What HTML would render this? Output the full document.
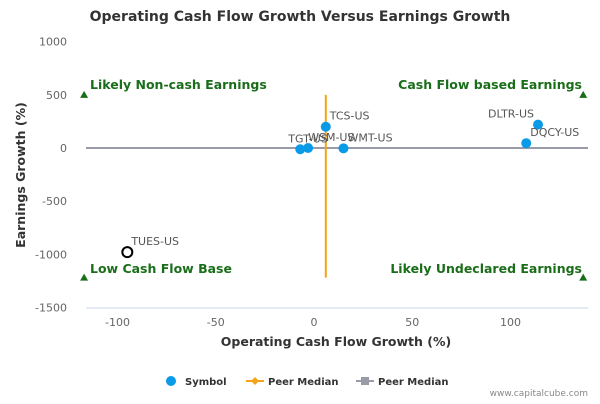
<!DOCTYPE html>
<html><head><meta charset="utf-8"><style>
body{margin:0;background:#fff;font-family:"DejaVu Sans",sans-serif}
</style></head><body>
<svg width="600" height="400" xmlns="http://www.w3.org/2000/svg" font-family="DejaVu Sans, Liberation Sans, sans-serif">
<text x="300" y="21" text-anchor="middle" font-size="14" font-weight="bold" fill="#333">Operating Cash Flow Growth Versus Earnings Growth</text>
<g id="grid"></g>
<g id="marks"></g>
<text x="336" y="346" text-anchor="middle" font-size="12.5" font-weight="bold" fill="#333">Operating Cash Flow Growth (%)</text>
<text transform="translate(25,175) rotate(-90)" text-anchor="middle" font-size="12.5" font-weight="bold" fill="#333">Earnings Growth (%)</text>
<text x="90" y="89" font-size="12.5" font-weight="bold" fill="#1a6e1a">Likely Non-cash Earnings</text>
<text x="582" y="89" text-anchor="end" font-size="12.5" font-weight="bold" fill="#1a6e1a">Cash Flow based Earnings</text>
<text x="90" y="273" font-size="12.5" font-weight="bold" fill="#1a6e1a">Low Cash Flow Base</text>
<text x="582" y="273" text-anchor="end" font-size="12.5" font-weight="bold" fill="#1a6e1a">Likely Undeclared Earnings</text>
<g font-size="10" font-weight="bold" fill="#333">
<g><circle cx="171" cy="381" r="5" fill="#0a9be8"/><text x="185" y="385">Symbol</text></g>
<g><line x1="246" y1="381" x2="264" y2="381" stroke="#f5a31a" stroke-width="2"/><path d="M255 377 L259 381 L255 385 L251 381Z" fill="#f5a31a"/><text x="268" y="385">Peer Median</text></g>
<g><line x1="356" y1="381" x2="374" y2="381" stroke="#999ba8" stroke-width="2"/><rect x="361" y="377" width="8" height="8" fill="#999ba8"/><text x="378" y="385">Peer Median</text></g>
</g>
<text x="588" y="396" text-anchor="end" font-size="9" fill="#888">www.capitalcube.com</text>
</svg>
<script>
const names=["TCS-US","TGT-US","WSM-US","WMT-US","DLTR-US","DQCY-US","TUES-US"];
const xs=[6,-7,-3,15,114,108,-95];
const ys=[200,-12,0,-3,220,45,-980];
const xTicks=[-100,-50,0,50,100];
const yTicks=[1000,500,0,-500,-1000,-1500];
const medianX=6, medianY=0;
const X=v=>314+v*1.965, Y=v=>148-v*0.1063;
const NS="http://www.w3.org/2000/svg";
function mk(t,a,p){const e=document.createElementNS(NS,t);for(const k in a)e.setAttribute(k,a[k]);p.appendChild(e);return e;}
const g=document.getElementById('grid'), m=document.getElementById('marks');
const ax=mk('line',{x1:86,y1:308,x2:588,y2:308,stroke:'#ccd6eb'},g);


xTicks.forEach(v=>{const t=mk('text',{x:X(v),y:326,'text-anchor':'middle','font-size':11,fill:'#666'},g);t.textContent=v;

});
yTicks.forEach(v=>{const t=mk('text',{x:67,y:Y(v)+4,'text-anchor':'end','font-size':11,fill:'#666'},g);t.textContent=v;

});
const hl=mk('line',{x1:86,y1:Y(medianY),x2:588,y2:Y(medianY),stroke:'#999ba8','stroke-width':2},m);


const vl=mk('line',{x1:X(medianX),y1:Y(500),x2:X(medianX),y2:Y(-1220),stroke:'#f5a31a','stroke-width':2},m);


[[-117,500],[137,500],[-117,-1220],[137,-1220]].forEach(([a,b])=>{const cx=X(a),cy=Y(b);
const p=mk('path',{d:`M${cx} ${cy-4} L${cx+4} ${cy+3} L${cx-4} ${cy+3}Z`,fill:'#1a6e1a'},m);

});
names.forEach((n,i)=>{const cx=X(xs[i]),cy=Y(ys[i]);const hi=n==="TUES-US";
const c=mk('circle',{cx:cx,cy:cy,r:5,fill:hi?'#fff':'#0a9be8',stroke:hi?'#000':'none','stroke-width':2},m);


const dx=(n==="DLTR-US")?-50:(n==="TGT-US"?-12:(n==="WSM-US"?0:4));
const t=mk('text',{x:cx+dx,y:cy-7,'font-size':11,fill:'#555'},m);t.textContent=n;

});
</script>
</body></html>
